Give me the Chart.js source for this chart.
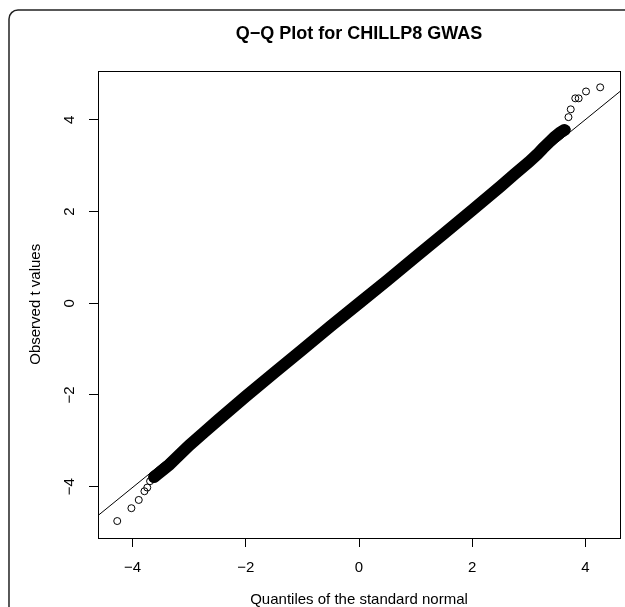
<!DOCTYPE html>
<html>
<head>
<meta charset="utf-8">
<script src="https://cdn.jsdelivr.net/npm/chart.js@4/dist/chart.umd.min.js"></script>
<style>
  html, body { margin: 0; padding: 0; background: #fff; }
  #wrap { width: 625px; height: 607px; }
</style>
</head>
<body>
<div id="wrap"><canvas id="qqChart" width="625" height="607"></canvas></div>
<script>
// values: theoretical quantile (x) vs observed t (y)
// dense middle part of the plot (points overlap into a solid band)
const bandX = [-3.62, -3.55, -3.45, -3.35, -3.25, -3.15, -3.0, -2.75, -2.5, -2.0, -1.5, -1.0, -0.5, 0, 0.5, 1.0, 1.5, 2.0, 2.5, 2.75, 3.0, 3.15, 3.25, 3.35, 3.45, 3.55, 3.63];
const bandY = [-3.79, -3.72, -3.62, -3.52, -3.40, -3.28, -3.10, -2.83, -2.56, -2.03, -1.52, -1.01, -0.50, 0.0, 0.50, 1.01, 1.52, 2.03, 2.55, 2.82, 3.08, 3.25, 3.38, 3.50, 3.62, 3.72, 3.78];
// single circles in the tails
const tailX = [-4.27, -4.02, -3.89, -3.79, -3.74, -3.69, -3.64, -3.60, 3.60, 3.64, 3.67, 3.70, 3.74, 3.82, 3.88, 4.01, 4.26];
const tailY = [-4.75, -4.47, -4.29, -4.10, -4.02, -3.88, -3.83, -3.80, 3.76, 3.77, 3.79, 4.06, 4.23, 4.47, 4.47, 4.62, 4.71];
// qqline
const refLineX = [-4.61, 4.61];
const refLineY = [-4.63, 4.62];

const xTicks = [-4, -2, 0, 2, 4];
const yTicks = [-4, -2, 0, 2, 4];

const toPts = (xs, ys) => xs.map((x, i) => ({ x: x, y: ys[i] }));
const minus = v => String(v).replace('-', '\u2212');

Chart.defaults.font.family = '"Liberation Sans", Arial, Helvetica, sans-serif';
Chart.defaults.color = '#000';

// white page, rounded frame, and the plot box
const framePlugin = {
    id: 'frame',
    beforeDraw(chart) {
        const c = chart.ctx;
        c.save();
        c.fillStyle = '#fff';
        c.fillRect(0, 0, chart.width, chart.height);
        c.strokeStyle = '#222';
        c.lineWidth = 1.5;
        c.beginPath();
        c.roundRect(9, 10, 700, 700, 9);
        c.stroke();
        c.restore();
    },
    afterDraw(chart) {
        const a = chart.chartArea;
        const c = chart.ctx;
        c.save();
        c.strokeStyle = '#000';
        c.lineWidth = 1;
        c.strokeRect(Math.round(a.left) + 0.5, Math.round(a.top) + 0.5, Math.round(a.right - a.left), Math.round(a.bottom - a.top));
        c.restore();
    }
};

const ctx = document.getElementById('qqChart').getContext('2d');
new Chart(ctx, {
    type: 'scatter',
    data: {
        datasets: [
            {
                label: 'band',
                data: toPts(bandX, bandY),
                showLine: true,
                borderColor: '#000',
                borderWidth: 12,
                borderCapStyle: 'round',
                pointRadius: 0
            },
            {
                label: 'tails',
                data: toPts(tailX, tailY),
                pointStyle: 'circle',
                pointRadius: 3.5,
                borderWidth: 1,
                borderColor: '#000',
                backgroundColor: 'rgba(0,0,0,0)'
            },
            {
                label: 'qqline',
                data: toPts(refLineX, refLineY),
                showLine: true,
                borderColor: '#000',
                borderWidth: 1,
                pointRadius: 0
            }
        ]
    },
    options: {
        responsive: false,
        animation: false,
        layout: { padding: { left: 0, right: 5, top: 0, bottom: 0 } },
        plugins: {
            legend: { display: false },
            tooltip: { enabled: false },
            title: {
                display: true,
                fullSize: false,
                text: 'Q\u2212Q Plot for CHILLP8 GWAS',
                font: { size: 18, weight: 'bold', lineHeight: 1.2 },
                color: '#000',
                padding: { top: 23, bottom: 26 }
            }
        },
        scales: {
            x: {
                type: 'linear',
                min: -4.61,
                max: 4.61,
                afterBuildTicks: axis => { axis.ticks = xTicks.map(v => ({ value: v })); },
                afterFit: scale => { scale.height = 69; },
                grid: { drawOnChartArea: false, drawTicks: true, tickLength: 9, tickColor: '#000', lineWidth: 1 },
                border: { display: false },
                ticks: { autoSkip: false, maxRotation: 0, padding: 12, font: { size: 15 }, color: '#000', callback: v => minus(v) },
                title: { display: true, text: 'Quantiles of the standard normal', font: { size: 15, lineHeight: 1 }, color: '#000', padding: { top: 0, bottom: 0 } }
            },
            y: {
                type: 'linear',
                min: -5.12,
                max: 5.075,
                afterBuildTicks: axis => { axis.ticks = yTicks.map(v => ({ value: v })); },
                afterFit: scale => { scale.width = 98; },
                grid: { drawOnChartArea: false, drawTicks: true, tickLength: 9, tickColor: '#000', lineWidth: 1 },
                border: { display: false },
                ticks: { autoSkip: false, minRotation: 90, maxRotation: 90, crossAlign: 'center', padding: 10.5, font: { size: 15 }, color: '#000', callback: v => minus(v) },
                title: { display: true, text: 'Observed t values', font: { size: 15, lineHeight: 1.2 }, color: '#000', padding: { top: 27, bottom: 0 } }
            }
        }
    },
    plugins: [framePlugin]
});
</script>
</body>
</html>
